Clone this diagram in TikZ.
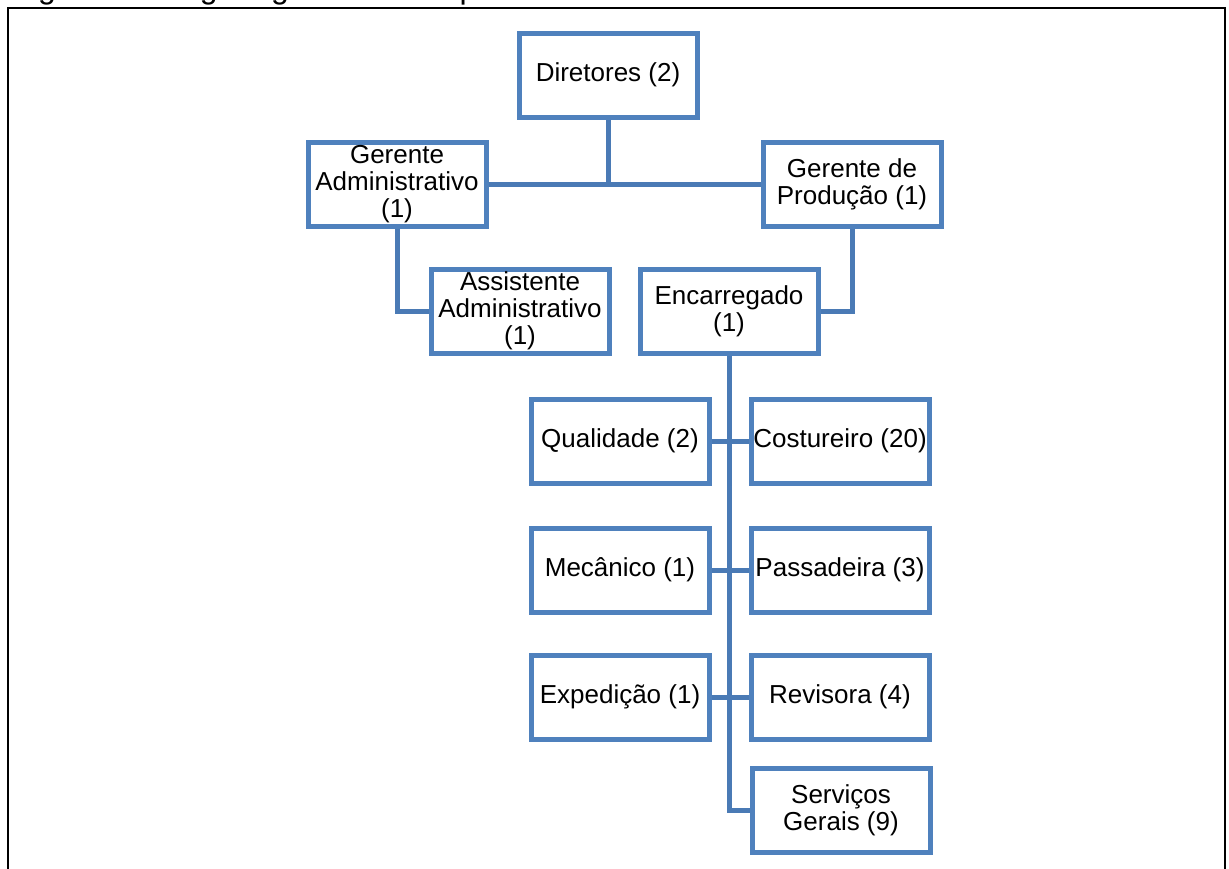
\documentclass[tikz,border=0pt]{standalone}
\usepackage{fontspec}
\setmainfont{Liberation Sans}
\definecolor{boxblue}{HTML}{4F81BD}
\definecolor{lineblue}{HTML}{4A7AB5}

\begin{document}
\begin{tikzpicture}[x=0.5pt,y=-0.5pt]

      \useasboundingbox (0,0) rectangle (1229,868);
      \node[anchor=base west, inner sep=0pt, font=\fontsize{16}{18}\selectfont] (0) at (11,-2) {Figura 4 -- Organograma da empresa};
      \draw[black, line width=0.75pt] (8,8) rectangle (1225,900);

      \begin{scope}[every node/.style={rectangle, draw=boxblue, line width=2.5pt, fill=white,
          minimum width=89pt, minimum height=42pt, inner xsep=0pt, inner ysep=1pt, align=center,
          font=\fontsize{13}{13.5}\selectfont}]
        \node (1)  at (608,75)  {Diretores (2)};
        \node (2)  at (397,184) {Gerente\\Administrativo\\(1)};
        \node (3)  at (852,184) {Gerente de\\Produção (1)};
        \node (4)  at (520,311) {Assistente\\Administrativo\\(1)};
        \node (5)  at (729,311) {Encarregado\\(1)};
        \node (6)  at (620,441) {Qualidade (2)};
        \node (7)  at (840,441) {Costureiro (20)};
        \node (8)  at (620,570) {Mecânico (1)};
        \node (9)  at (840,570) {Passadeira (3)};
        \node (10) at (620,697) {Expedição (1)};
        \node (11) at (840,697) {Revisora (4)};
        \node (12) at (841,810) {Serviços\\Gerais (9)};
      \end{scope}

      \begin{scope}[lineblue, line width=2.5pt]
        \draw (1.south) -- (1.south |- 2.east);
        \draw (2.east)  -- (3.west);
        \draw (2.south) |- (4.west);
        \draw (3.south) |- (5.east);
        \draw (5.south) |- (12.west);
        \draw (6.east)  -- (7.west);
        \draw (8.east)  -- (9.west);
        \draw (10.east) -- (11.west);
      \end{scope}

    \end{tikzpicture}
\end{document}
